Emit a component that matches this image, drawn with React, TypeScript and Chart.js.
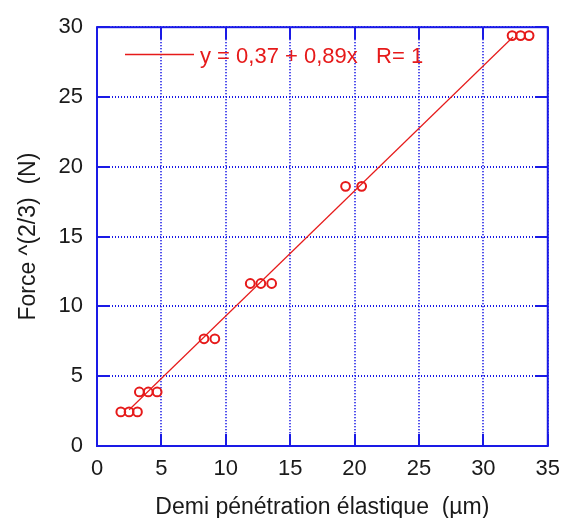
import React, { useEffect, useRef } from "react";
import { Chart, registerables } from "chart.js";

Chart.register(...registerables);

// Measured points (Demi pénétration élastique, Force^(2/3))
const pointX = [1.85, 2.49, 3.14, 3.29, 3.98, 4.67, 8.31, 9.15, 11.9, 12.72, 13.56, 19.3, 20.55, 32.23, 32.89, 33.55];
const pointY = [2.44, 2.44, 2.44, 3.87, 3.87, 3.87, 7.68, 7.68, 11.64, 11.64, 11.64, 18.6, 18.6, 29.4, 29.4, 29.4];

// Fit line ends as drawn
const fitX = [2.5, 32.3];
const fitY = [2.6, 29.3];

const xTicks = [0, 5, 10, 15, 20, 25, 30, 35];
const yTicks = [0, 5, 10, 15, 20, 25, 30];

const legendText = "y = 0,37 + 0,89x   R= 1";
const xTitle = "Demi pénétration élastique  (µm)";
const yTitle = "Force ^(2/3)  (N)";

const BLUE = "#1a1ae6";
const RED = "#e61a1a";
const TEXT = "#1a1a1a";
const FONT = "'Liberation Sans', Arial, sans-serif";

export default function App() {
  const ref = useRef<HTMLCanvasElement | null>(null);

  useEffect(() => {
    const canvas = ref.current;
    if (!canvas) return;

    const framePlugin = {
      id: "frame",
      afterDraw(chart: any) {
        const { ctx, chartArea: a, scales } = chart;
        const xs = scales.x;
        const ys = scales.y;
        ctx.save();
        ctx.strokeStyle = BLUE;
        ctx.lineWidth = 2;
        ctx.setLineDash([]);
        ctx.strokeRect(a.left, a.top, a.right - a.left, a.bottom - a.top);
        const tl = 12;
        ctx.beginPath();
        xTicks.forEach((v) => {
          const px = Math.round(xs.getPixelForValue(v));
          ctx.moveTo(px, a.bottom);
          ctx.lineTo(px, a.bottom - tl);
          ctx.moveTo(px, a.top);
          ctx.lineTo(px, a.top + tl);
        });
        yTicks.forEach((v) => {
          const py = Math.round(ys.getPixelForValue(v));
          ctx.moveTo(a.left, py);
          ctx.lineTo(a.left + tl, py);
          ctx.moveTo(a.right, py);
          ctx.lineTo(a.right - tl, py);
        });
        ctx.stroke();

        // Legend
        ctx.strokeStyle = RED;
        ctx.lineWidth = 1.5;
        ctx.beginPath();
        ctx.moveTo(125, 54.5);
        ctx.lineTo(194, 54.5);
        ctx.stroke();
        ctx.fillStyle = RED;
        ctx.font = `22px ${FONT}`;
        ctx.textBaseline = "alphabetic";
        ctx.textAlign = "left";
        ctx.fillText(legendText, 200, 62.5);

        // Axis titles
        ctx.fillStyle = TEXT;
        ctx.font = `23px ${FONT}`;
        ctx.textAlign = "center";
        ctx.fillText(xTitle, (a.left + a.right) / 2, 514);
        ctx.translate(35, (a.top + a.bottom) / 2);
        ctx.rotate(-Math.PI / 2);
        ctx.fillText(yTitle, 0, 0);
        ctx.restore();
      },
    };

    const chart = new Chart(canvas, {
      type: "scatter",
      data: {
        datasets: [
          {
            label: "fit",
            data: fitX.map((x, i) => ({ x, y: fitY[i] })),
            showLine: true,
            borderColor: RED,
            borderWidth: 1.2,
            pointRadius: 0,
            order: 2,
          },
          {
            label: "points",
            data: pointX.map((x, i) => ({ x, y: pointY[i] })),
            showLine: false,
            pointStyle: "circle",
            pointRadius: 4.4,
            borderColor: RED,
            borderWidth: 2,
            backgroundColor: "rgba(255,255,255,0)",
            order: 1,
          },
        ],
      },
      options: {
        responsive: false,
        animation: false,
        layout: { padding: { top: 25, right: 14, left: 0, bottom: 0 } },
        plugins: { legend: { display: false }, tooltip: { enabled: false } },
        scales: {
          x: {
            type: "linear",
            min: 0,
            max: 35,
            afterBuildTicks: (s: any) => {
              s.ticks = xTicks.map((v) => ({ value: v }));
            },
            ticks: { color: TEXT, font: { size: 22, family: FONT }, padding: 10, maxRotation: 0 },
            grid: { color: BLUE, lineWidth: 2, drawTicks: false },
            border: { display: false, dash: [1, 2] },
            afterFit: (s: any) => {
              s.height = 72;
            },
          },
          y: {
            type: "linear",
            min: 0,
            max: 30,
            afterBuildTicks: (s: any) => {
              s.ticks = yTicks.map((v) => ({ value: v }));
            },
            ticks: { color: TEXT, font: { size: 22, family: FONT }, padding: 14 },
            grid: { color: BLUE, lineWidth: 2, drawTicks: false },
            border: { display: false, dash: [1, 2] },
            afterFit: (s: any) => {
              s.width = 97;
            },
          },
        },
      },
      plugins: [framePlugin],
    } as any);

    return () => chart.destroy();
  }, []);

  return (
    <div style={{ position: "fixed", left: 0, top: 0, width: 570, height: 518, background: "#fff" }}>
      <canvas ref={ref} width={570} height={518} style={{ display: "block" }} />
    </div>
  );
}
